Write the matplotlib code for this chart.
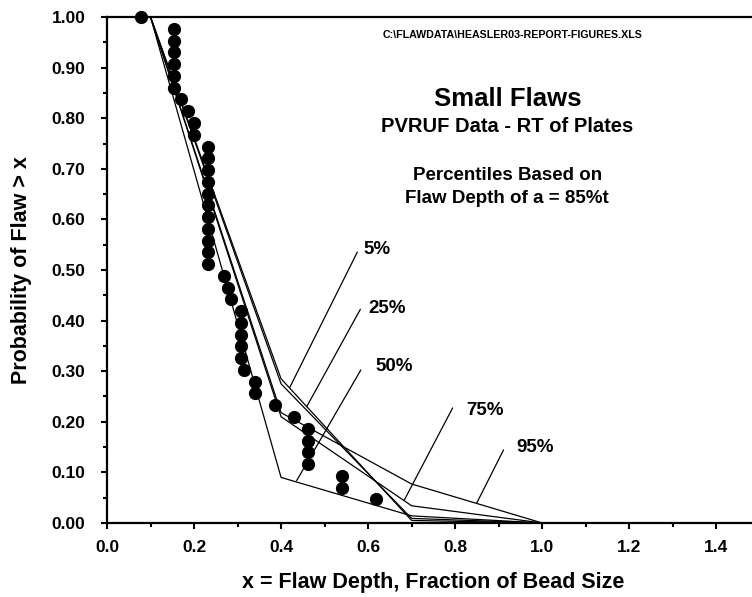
import matplotlib.pyplot as plt
from matplotlib.ticker import MultipleLocator, FormatStrFormatter

plt.rcParams['font.family'] = ['Liberation Sans', 'DejaVu Sans']
plt.rcParams['font.weight'] = 'bold'

# observed flaws (fraction of bead size, exceedance probability)
obs_x = [0.077, 0.154, 0.154, 0.154, 0.154, 0.154, 0.154, 0.169, 0.185, 0.201, 0.201,
         0.231, 0.231, 0.231, 0.231, 0.231, 0.231, 0.231, 0.231, 0.231, 0.231, 0.231,
         0.269, 0.277, 0.286, 0.309, 0.309, 0.309, 0.309, 0.309, 0.314, 0.339, 0.339,
         0.385, 0.430, 0.462, 0.462, 0.462, 0.462, 0.539, 0.539, 0.618]
obs_y = [1.000, 0.977, 0.953, 0.930, 0.907, 0.884, 0.860, 0.837, 0.814, 0.791, 0.767,
         0.744, 0.721, 0.698, 0.674, 0.651, 0.628, 0.605, 0.581, 0.558, 0.535, 0.512,
         0.488, 0.465, 0.442, 0.419, 0.395, 0.372, 0.349, 0.326, 0.302, 0.279, 0.256,
         0.233, 0.209, 0.186, 0.163, 0.140, 0.116, 0.093, 0.070, 0.047]

# percentile curves
pct_x = [0.1, 0.4, 0.7, 1.0]
p05 = [1.0, 0.285, 0.005, 0.0]
p25 = [1.0, 0.275, 0.009, 0.0]
p50 = [1.0, 0.090, 0.014, 0.0]
p75 = [1.0, 0.210, 0.034, 0.0]
p95 = [1.0, 0.218, 0.077, 0.0]

fig = plt.figure(figsize=(7.52, 5.97), dpi=100)
ax = fig.add_axes([0.1423, 0.124, 0.868, 0.8475])

for p in [p05, p25, p50, p75, p95]:
    ax.plot(pct_x, p, color='black', lw=0.9)
ax.plot(obs_x, obs_y, 'o', color='black', markersize=8.5, clip_on=False, zorder=5)

# leader lines and labels
labels = [('5%', (0.575, 0.535), (0.42, 0.268), (0.589, 0.54)),
          ('25%', (0.582, 0.422), (0.459, 0.230), (0.600, 0.423)),
          ('50%', (0.583, 0.302), (0.436, 0.084), (0.616, 0.310)),
          ('75%', (0.794, 0.227), (0.683, 0.045), (0.825, 0.223)),
          ('95%', (0.911, 0.144), (0.850, 0.040), (0.940, 0.150))]
for txt, p1, p2, pt in labels:
    ax.plot([p1[0], p2[0]], [p1[1], p2[1]], color='black', lw=0.9)
    ax.text(pt[0], pt[1], txt, fontsize=13.5, fontweight='bold', va='center', ha='left')

ax.text(0.931, 0.964, 'C:\\FLAWDATA\\HEASLER03-REPORT-FIGURES.XLS', fontsize=7.7,
        fontweight='bold', ha='center', va='center')
ax.text(0.92, 0.838, 'Small Flaws', fontsize=18.5, fontweight='bold', ha='center', va='center')
ax.text(0.92, 0.783, 'PVRUF Data - RT of Plates', fontsize=14.5, fontweight='bold',
        ha='center', va='center')
ax.text(0.92, 0.686, 'Percentiles Based on', fontsize=13.5, fontweight='bold',
        ha='center', va='center')
ax.text(0.92, 0.642, 'Flaw Depth of a = 85%t', fontsize=13.5, fontweight='bold',
        ha='center', va='center')

ax.set_xlim(0, 1.5)
ax.set_ylim(0, 1.0)
ax.xaxis.set_major_locator(MultipleLocator(0.2))
ax.xaxis.set_minor_locator(MultipleLocator(0.1))
ax.yaxis.set_major_locator(MultipleLocator(0.1))
ax.yaxis.set_minor_locator(MultipleLocator(0.05))
ax.xaxis.set_major_formatter(FormatStrFormatter('%.1f'))
ax.yaxis.set_major_formatter(FormatStrFormatter('%.2f'))
ax.tick_params(which='major', direction='out', length=4.5, width=1.5, labelsize=12.5)
ax.tick_params(axis='y', which='major', pad=11)
ax.tick_params(axis='x', which='major', pad=8)
ax.tick_params(which='minor', direction='out', length=3, width=1.5)
for lab in ax.get_xticklabels() + ax.get_yticklabels():
    lab.set_fontweight('bold')
for s in ['left', 'bottom', 'top']:
    ax.spines[s].set_linewidth(1.6)
ax.spines['right'].set_visible(False)

ax.set_xlabel('x = Flaw Depth, Fraction of Bead Size', fontsize=15.5, fontweight='bold', labelpad=12)
ax.set_ylabel('Probability of Flaw > x', fontsize=15.5, fontweight='bold', labelpad=14)

fig.savefig('out.png', dpi=100)
